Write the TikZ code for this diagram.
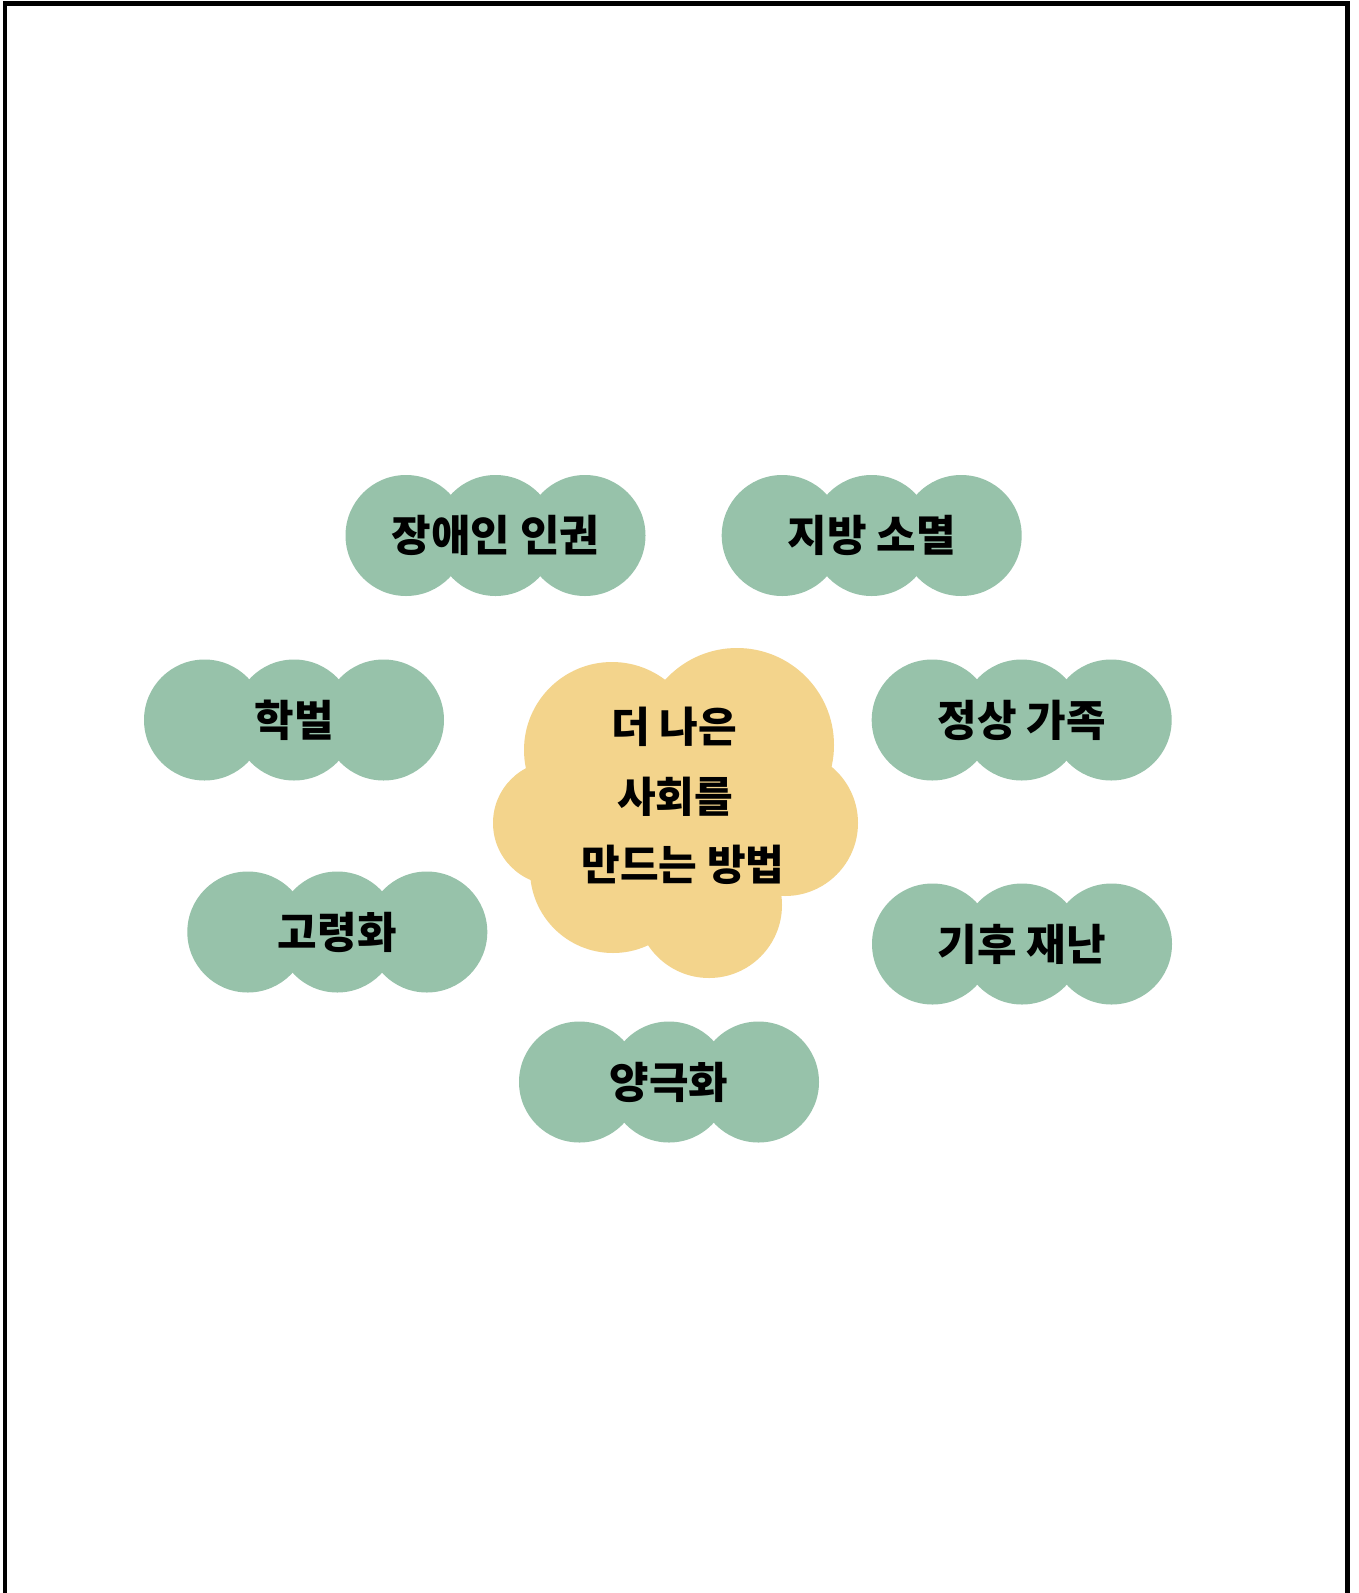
\documentclass[tikz,border=0pt]{standalone}
\usepackage{fontspec}
\newfontfamily\krfont{Noto Sans CJK KR}
\definecolor{pillgreen}{RGB}{151,194,170}
\definecolor{cloudyellow}{RGB}{243,212,140}
\begin{document}
\begin{tikzpicture}[x=1pt,y=-1pt,
  pilltext/.style={font=\krfont\bfseries\fontsize{43}{50}\selectfont, text=black, inner sep=0pt},
  cloudtext/.style={font=\krfont\bfseries\fontsize{42}{50}\selectfont, text=black, inner sep=0pt},
  pillfill/.style={fill=pillgreen},
  cloudfill/.style={fill=cloudyellow},
  frameline/.style={line width=4.6pt, line join=miter}]
\useasboundingbox (0,0) rectangle (1358,1593);
\fill[white] (0,0) rectangle (1358,1593);
\draw[frameline] (5,1610) -- (5,3.5) -- (1347.5,3.5) -- (1347.5,1610);

% central cloud
\fill[cloudfill] (737,745) circle[radius=97];
\fill[cloudfill] (612,750) circle[radius=88];
\fill[cloudfill] (555,823) circle[radius=62];
\fill[cloudfill] (613,870) circle[radius=83];
\fill[cloudfill] (709,905) circle[radius=73];
\fill[cloudfill] (785,823) circle[radius=73];
\fill[cloudfill] (680,830) circle[radius=80];
\node[cloudtext] (cl1) at (674,727) {더 나은};
\node[cloudtext] (cl2) at (675,797) {사회를};
\node[cloudtext] (cl3) at (683,865) {만드는 방법};

% pills
\foreach \cx/\cy/\nm/\txt in {
  495.5/535.5/disab/장애인 인권,
  871.7/535.5/local/지방 소멸,
  294/720/acad/학벌,
  1021.7/720/family/정상 가족,
  337.3/932/aging/고령화,
  1022/944/climate/기후 재난,
  669/1082/polar/양극화}{
  \fill[pillfill] (\cx-89.5,\cy) circle[radius=60.5];
  \fill[pillfill] (\cx,\cy) circle[radius=60.5];
  \fill[pillfill] (\cx+89.5,\cy) circle[radius=60.5];
  \node[pilltext] (\nm) at (\cx,\cy) {\txt};
}
\end{tikzpicture}
\end{document}
